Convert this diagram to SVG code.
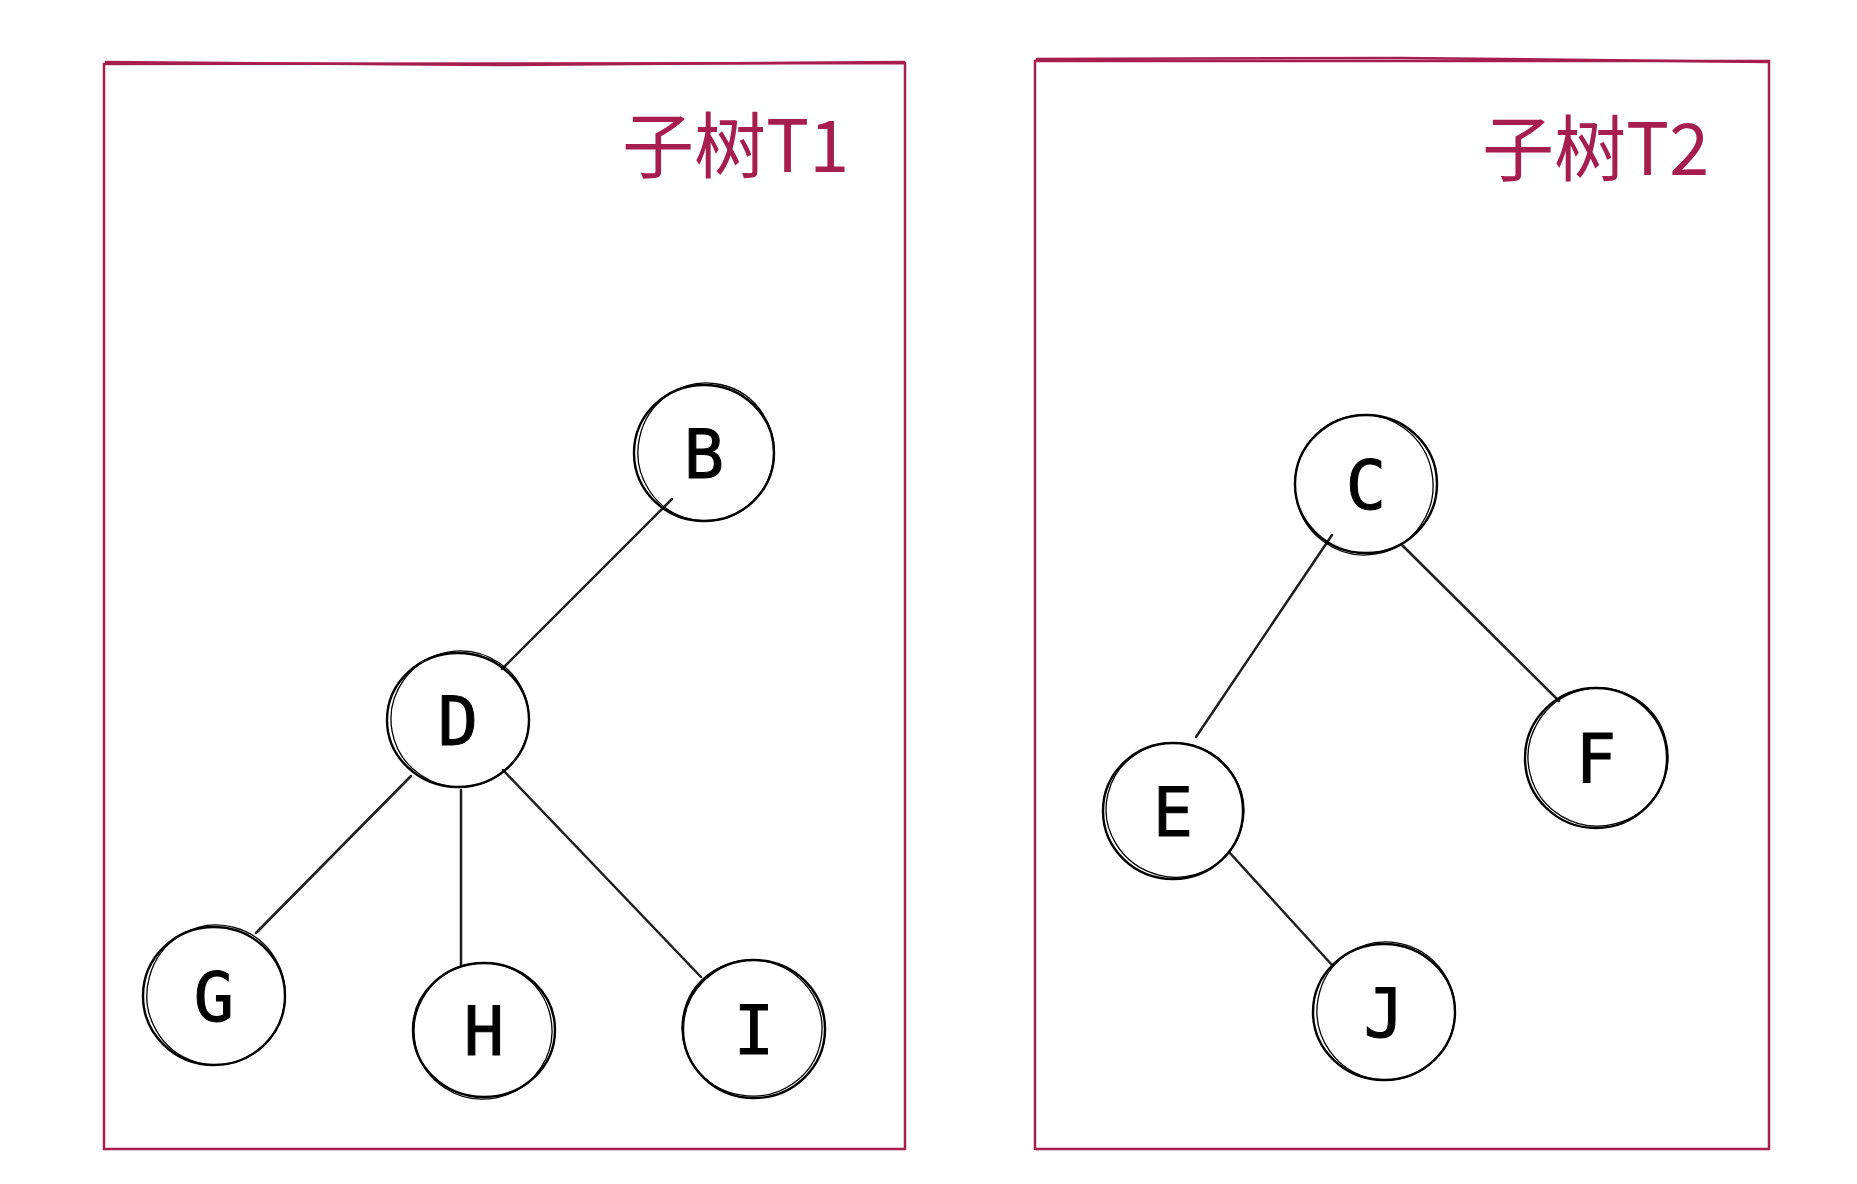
<svg xmlns="http://www.w3.org/2000/svg" width="1857" height="1184" viewBox="0 0 1857 1184">
<style>
.frame{fill:none;stroke:#a61e4d;stroke-width:2.5;stroke-linecap:round}
.title{font-family:"Noto Sans CJK SC","Noto Sans",sans-serif;font-size:72px;font-weight:400;fill:#a61e4d}
.ring{fill:none;stroke:#000;stroke-width:2.4}
.ring2{fill:none;stroke:#000;stroke-width:1.3}
.lbl{font-family:"DejaVu Sans Mono",monospace;font-size:67px;fill:#000;stroke:#000;stroke-width:1;text-anchor:middle}
.edge{stroke:#1e1e1e;stroke-width:2.5;stroke-linecap:round;fill:none}
</style>
<rect width="1857" height="1184" fill="#fff"/>
<g id="frame-t1">
<path class="frame" d="M104 64 L905 63 L905 1149 L104 1149 Z"/>
<path class="frame" d="M106 62 L500 65 L904 62" stroke-width="1.2"/>
<text class="title" x="622" y="172">子树T1</text>
</g>
<g id="frame-t2">
<path class="frame" d="M1035 61 L1769 61 L1769 1149 L1035 1149 Z"/>
<path class="frame" d="M1037 59 L1400 58 L1767 62" stroke-width="1.2"/>
<text class="title" x="1482" y="175">子树T2</text>
</g>
<g id="connectors">
<line class="edge" x1="672" y1="499" x2="502" y2="669"/>
<line class="edge" x1="411" y1="776" x2="256" y2="933"/>
<line class="edge" x1="461" y1="790" x2="461" y2="965"/>
<line class="edge" x1="503" y1="770" x2="701" y2="977"/>
<line class="edge" x1="1332" y1="535" x2="1196" y2="737"/>
<line class="edge" x1="1402" y1="545" x2="1559" y2="701"/>
<line class="edge" x1="1229" y1="852" x2="1332" y2="965"/>
</g>
<g id="node-B"><ellipse class="ring" cx="704" cy="453" rx="70" ry="68"/><ellipse class="ring2" cx="706" cy="452" rx="68" ry="69" transform="rotate(12 706 452)"/><text class="lbl" x="704" y="478">B</text></g>
<g id="node-D"><ellipse class="ring" cx="458" cy="720" rx="71" ry="67"/><ellipse class="ring2" cx="460" cy="719" rx="69" ry="68" transform="rotate(-10 460 719)"/><text class="lbl" x="458" y="745">D</text></g>
<g id="node-G"><ellipse class="ring" cx="214" cy="996" rx="71" ry="69"/><ellipse class="ring2" cx="216" cy="995" rx="69" ry="70" transform="rotate(15 216 995)"/><text class="lbl" x="214" y="1021">G</text></g>
<g id="node-H"><ellipse class="ring" cx="484" cy="1030" rx="71" ry="67"/><ellipse class="ring2" cx="483" cy="1031" rx="69" ry="68" transform="rotate(-12 483 1031)"/><text class="lbl" x="484" y="1055">H</text></g>
<g id="node-I"><ellipse class="ring" cx="754" cy="1029" rx="71" ry="69"/><ellipse class="ring2" cx="752" cy="1028" rx="70" ry="68" transform="rotate(10 752 1028)"/><text class="lbl" x="754" y="1054">I</text></g>
<g id="node-C"><ellipse class="ring" cx="1366" cy="484" rx="71" ry="69"/><ellipse class="ring2" cx="1364" cy="485" rx="69" ry="70" transform="rotate(-10 1364 485)"/><text class="lbl" x="1366" y="509">C</text></g>
<g id="node-E"><ellipse class="ring" cx="1173" cy="811" rx="70" ry="68"/><ellipse class="ring2" cx="1175" cy="810" rx="69" ry="67" transform="rotate(14 1175 810)"/><text class="lbl" x="1173" y="836">E</text></g>
<g id="node-F"><ellipse class="ring" cx="1596" cy="758" rx="71" ry="70"/><ellipse class="ring2" cx="1598" cy="757" rx="70" ry="69" transform="rotate(-14 1598 757)"/><text class="lbl" x="1596" y="783">F</text></g>
<g id="node-J"><ellipse class="ring" cx="1384" cy="1012" rx="71" ry="68"/><ellipse class="ring2" cx="1386" cy="1011" rx="69" ry="69" transform="rotate(10 1386 1011)"/><text class="lbl" x="1384" y="1037">J</text></g>
</svg>
